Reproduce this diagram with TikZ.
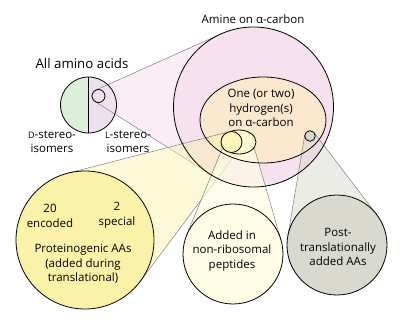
\documentclass[tikz,border=0pt]{standalone}
\usepackage{fontspec}
\setmainfont{Open Sans}
\usetikzlibrary{calc}
\definecolor{aagreen}{HTML}{DCEFD8}
\definecolor{aalilac}{HTML}{ECE2EE}
\definecolor{aminepink}{HTML}{F8E1EF}
\definecolor{hydpeach}{HTML}{FCE7CF}
\definecolor{protoyellow}{HTML}{FBF2A9}
\definecolor{nrpyellow}{HTML}{FEFCE4}
\definecolor{ptmgrey}{HTML}{D9D9D0}
\newcommand{\smallcap}[1]{{\fontsize{9}{9}\selectfont #1}}
% cone between two circles: style, centre 1, radius 1, centre 2, radius 2
\newcommand{\conefill}[5]{%
  \fill[#1] let \p1=(#2), \p2=(#4), \n1={atan2(\y2-\y1,\x2-\x1)},
    \n2={acos((#3-#5)/veclen(\x2-\x1,\y2-\y1))} in
    ($(#2)+(\n1+\n2:#3pt)$) -- ($(#4)+(\n1+\n2:#5pt)$) --
    ($(#4)+(\n1-\n2:#5pt)$) -- ($(#2)+(\n1-\n2:#3pt)$) -- cycle;
  \draw[coneline] let \p1=(#2), \p2=(#4), \n1={atan2(\y2-\y1,\x2-\x1)},
    \n2={acos((#3-#5)/veclen(\x2-\x1,\y2-\y1))} in
    ($(#2)+(\n1+\n2:#3pt)$) -- ($(#4)+(\n1+\n2:#5pt)$)
    ($(#2)+(\n1-\n2:#3pt)$) -- ($(#4)+(\n1-\n2:#5pt)$);}
\tikzset{
  outline/.style={draw=black, line width=0.8pt},
  coneline/.style={draw=gray, line width=0.5pt},
  textblock/.style={align=center, inner sep=0pt, font=\fontsize{11.5}{14.5}\selectfont}
}
\begin{document}
\begin{tikzpicture}[x=1pt,y=1pt]
  \useasboundingbox (0,0) rectangle (400,-331);
  % centres
  \coordinate (aa) at (88.5,-105);
  \coordinate (lsub) at (98.5,-96);
  \coordinate (amine) at (253.5,-107);
  \coordinate (hyd) at (263,-120);
  \coordinate (nrpsub) at (239,-142);
  \coordinate (protosub) at (231.5,-142);
  \coordinate (ptmsub) at (310,-136);
  \coordinate (proto) at (85,-240);
  \coordinate (nrp) at (233,-254);
  \coordinate (ptm) at (337,-245);
  % all amino acids, D and L halves
  \fill[aagreen] ($(aa)+(0,28)$) arc[start angle=90, end angle=270, radius=28];
  \fill[aalilac] ($(aa)+(0,-28)$) arc[start angle=-90, end angle=90, radius=28];
  \conefill{aminepink, fill opacity=0.6}{lsub}{6.5}{amine}{80}
  % amine and hydrogen sets
  \fill[aminepink] (amine) circle[radius=80];
  \fill[hydpeach] (hyd) ellipse[x radius=63, y radius=43];
  % cones to the subsets
  \conefill{protoyellow, fill opacity=0.45}{protosub}{10.5}{proto}{69}
  \conefill{nrpyellow, fill opacity=0.7}{nrpsub}{13}{nrp}{50}
  \conefill{ptmgrey, fill opacity=0.5}{ptmsub}{5.3}{ptm}{50}
  % subsets
  \filldraw[outline, fill=protoyellow] (proto) circle[radius=69];
  \filldraw[outline, fill=nrpyellow] (nrp) circle[radius=50];
  \filldraw[outline, fill=ptmgrey] (ptm) circle[radius=50];
  \filldraw[outline, fill=nrpyellow!70!protoyellow] (nrpsub) ellipse[x radius=17, y radius=12];
  \filldraw[outline, fill=protoyellow!80] (protosub) circle[radius=10.5];
  \filldraw[outline, fill=ptmgrey] (ptmsub) circle[radius=5.3];
  \draw[outline] (aa) circle[radius=28] ($(aa)+(0,28)$) -- ($(aa)+(0,-28)$);
  \draw[outline] (lsub) circle[radius=6.5];
  \draw[outline] (amine) circle[radius=80];
  \draw[outline] (hyd) ellipse[x radius=63, y radius=43];
  % labels
  \node[textblock, font=\fontsize{13.3}{15}\selectfont] (aalabel) at (82,-64) {All amino acids};
  \node[textblock] (dlabel) at (52,-142) {\smallcap{D}-stereo-\\isomers};
  \node[textblock] (llabel) at (128,-142) {\smallcap{L}-stereo-\\isomers};
  \node[textblock] (aminelabel) at (253,-19) {Amine on α-carbon};
  \node[textblock] (hydlabel) at (261,-108) {One (or two)\\hydrogen(s)\\on α-carbon};
  \node[textblock] (enclabel) at (50,-216) {20\\encoded};
  \node[textblock] (speclabel) at (117,-215) {2\\special};
  \node[textblock] (protolabel) at (83,-264) {Proteinogenic AAs\\(added during\\translational)};
  \node[textblock] (nrplabel) at (232,-251) {Added in\\non-ribosomal\\peptides};
  \node[textblock] (ptmlabel) at (338,-247) {Post-\\translationally\\added AAs};
\end{tikzpicture}
\end{document}
